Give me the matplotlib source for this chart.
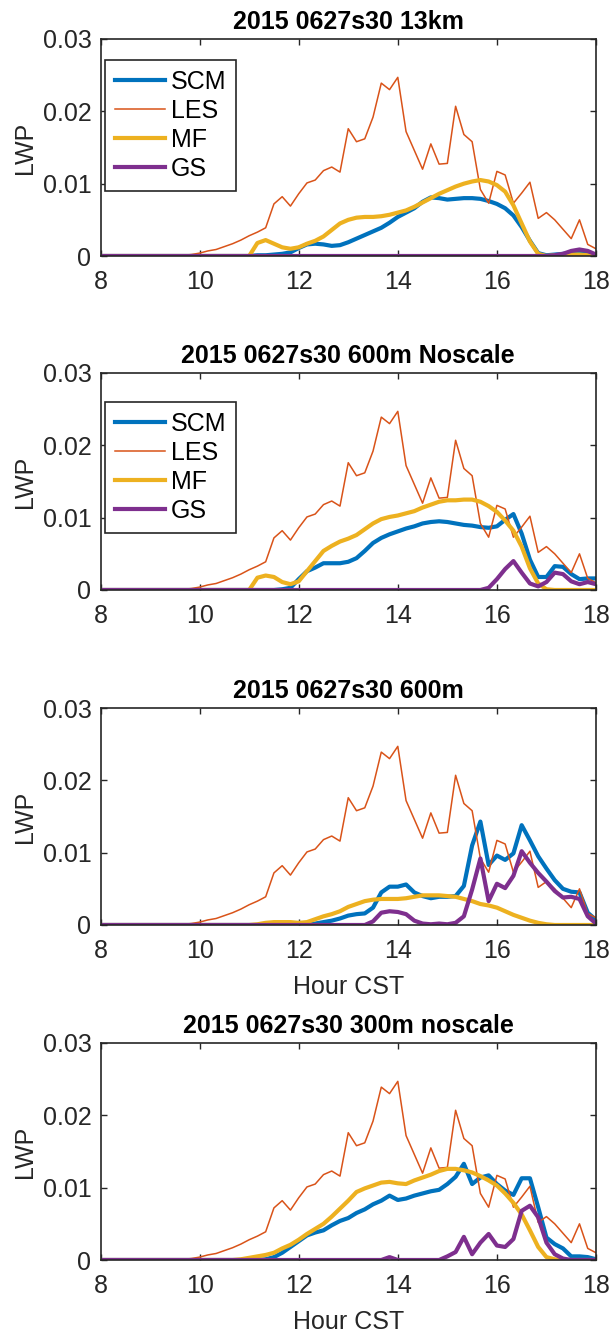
import numpy as np
import matplotlib
matplotlib.use("Agg")
import matplotlib.pyplot as plt

plt.rcParams['font.family'] = ['Liberation Sans', 'DejaVu Sans']

# Time axis: 10-minute output from 08:00 to 18:00 CST
hours = [8 + k / 6 for k in range(61)]

# LES liquid water path (same reference in every panel)
les = [0, 0, 0, 0, 0, 0, 0, 0, 0, 0,
       0.0001, 0.0002, 0.0004, 0.0007, 0.0009, 0.0013, 0.0017, 0.0022, 0.0028, 0.0033,
       0.0039, 0.0072, 0.0082, 0.0069, 0.0086, 0.0101, 0.0105, 0.0118, 0.0123, 0.0116,
       0.0176, 0.0158, 0.0162, 0.0192, 0.0239, 0.0230, 0.0247, 0.0172, 0.0146, 0.0120,
       0.0155, 0.0127, 0.0128, 0.0207, 0.0168, 0.0158, 0.0092, 0.0073, 0.0117, 0.0112,
       0.0073, 0.0087, 0.0102, 0.0052, 0.0060, 0.0050, 0.0037, 0.0024, 0.0050, 0.0016,
       0.0010]

# 13km run
scm_13km = [0] * 19 + [
    0.0001, 0.0001, 0.0002, 0.0003, 0.0005, 0.0011, 0.0016, 0.0017, 0.0016, 0.0014,
    0.0015, 0.0019, 0.0024, 0.0029, 0.0034, 0.0039, 0.0046, 0.0054, 0.0060, 0.0066,
    0.0075, 0.0081, 0.0080, 0.0078, 0.0079, 0.0080, 0.0080, 0.0079, 0.0076, 0.0072,
    0.0066, 0.0056, 0.0040, 0.0021, 0.0004, 0.0001, 0.0002, 0.0003, 0.0004, 0.0005,
    0.0004, 0.0001]
mf_13km = [0] * 19 + [
    0.0018, 0.0022, 0.0017, 0.0012, 0.0010, 0.0012, 0.0017, 0.0021, 0.0027, 0.0036,
    0.0045, 0.0050, 0.0053, 0.0054, 0.0054, 0.0055, 0.0057, 0.0060, 0.0063, 0.0068,
    0.0074, 0.0080, 0.0086, 0.0091, 0.0096, 0.0100, 0.0103, 0.0105, 0.0103, 0.0098,
    0.0089, 0.0070, 0.0045, 0.0020, 0.0003, 0.0000, 0.0001, 0.0002, 0.0002, 0.0002,
    0.0001, 0.0000]
gs_13km = [0] * 55 + [0.0001, 0.0003, 0.0007, 0.0009, 0.0007, 0.0002]

# 600m Noscale run
scm_600ns = [0] * 22 + [
    0.0001, 0.0003, 0.0015, 0.0026, 0.0031, 0.0037, 0.0037, 0.0037, 0.0039, 0.0044,
    0.0054, 0.0065, 0.0072, 0.0077, 0.0081, 0.0085, 0.0088, 0.0092, 0.0094, 0.0095,
    0.0094, 0.0092, 0.0090, 0.0089, 0.0087, 0.0086, 0.0088, 0.0097, 0.0105, 0.0078,
    0.0042, 0.0018, 0.0018, 0.0033, 0.0032, 0.0022, 0.0015, 0.0016, 0.0016]
mf_600ns = [0] * 19 + [
    0.0017, 0.0020, 0.0018, 0.0011, 0.0008, 0.0012, 0.0026, 0.0040, 0.0054, 0.0061,
    0.0067, 0.0071, 0.0076, 0.0084, 0.0092, 0.0098, 0.0101, 0.0103, 0.0106, 0.0109,
    0.0114, 0.0118, 0.0122, 0.0124, 0.0124, 0.0125, 0.0125, 0.0122, 0.0116, 0.0108,
    0.0096, 0.0082, 0.0060, 0.0030, 0.0009, 0.0001, 0, 0, 0, 0,
    0, 0]
gs_600ns = [0] * 47 + [
    0.0003, 0.0015, 0.0029, 0.0040, 0.0024, 0.0009, 0.0005, 0.0011, 0.0024, 0.0022,
    0.0012, 0.0008, 0.0011, 0.0008]

# 600m run
scm_600 = [0] * 26 + [
    0.0002, 0.0004, 0.0006, 0.0009, 0.0013, 0.0015, 0.0016, 0.0024, 0.0045, 0.0053,
    0.0053, 0.0056, 0.0045, 0.0040, 0.0037, 0.0039, 0.0039, 0.0040, 0.0054, 0.0110,
    0.0143, 0.0083, 0.0096, 0.0090, 0.0099, 0.0138, 0.0117, 0.0095, 0.0078, 0.0062,
    0.0050, 0.0046, 0.0045, 0.0017, 0.0007]
mf_600 = [0] * 19 + [
    0.0001, 0.0003, 0.0004, 0.0004, 0.0004, 0.0003, 0.0004, 0.0008, 0.0012, 0.0015,
    0.0019, 0.0025, 0.0029, 0.0033, 0.0035, 0.0036, 0.0036, 0.0036, 0.0037, 0.0039,
    0.0041, 0.0041, 0.0041, 0.0040, 0.0039, 0.0036, 0.0033, 0.0029, 0.0027, 0.0024,
    0.0019, 0.0014, 0.0010, 0.0006, 0.0003, 0.0001, 0, 0, 0, 0,
    0, 0]
gs_600 = [0] * 33 + [
    0.0005, 0.0017, 0.0019, 0.0018, 0.0015, 0.0006, 0.0002, 0.0001, 0.0002, 0.0001,
    0.0003, 0.0012, 0.0049, 0.0092, 0.0033, 0.0057, 0.0051, 0.0068, 0.0102, 0.0086,
    0.0072, 0.0060, 0.0047, 0.0038, 0.0039, 0.0036, 0.0012, 0.0002]

# 300m noscale run
scm_300ns = [0] * 20 + [
    0.0001, 0.0004, 0.0010, 0.0018, 0.0026, 0.0034, 0.0038, 0.0041, 0.0048, 0.0054,
    0.0058, 0.0065, 0.0070, 0.0077, 0.0082, 0.0089, 0.0083, 0.0085, 0.0089, 0.0092,
    0.0095, 0.0097, 0.0105, 0.0115, 0.0133, 0.0105, 0.0114, 0.0117, 0.0105, 0.0096,
    0.0090, 0.0113, 0.0113, 0.0073, 0.0031, 0.0022, 0.0016, 0.0005, 0.0005, 0.0004,
    0.0001]
mf_300ns = [0] * 17 + [
    0.0001, 0.0003, 0.0005, 0.0007, 0.0010, 0.0016, 0.0021, 0.0028, 0.0036, 0.0043,
    0.0050, 0.0060, 0.0071, 0.0082, 0.0094, 0.0099, 0.0103, 0.0107, 0.0108, 0.0106,
    0.0105, 0.0110, 0.0114, 0.0118, 0.0123, 0.0126, 0.0126, 0.0124, 0.0121, 0.0116,
    0.0110, 0.0103, 0.0092, 0.0079, 0.0063, 0.0041, 0.0018, 0.0004, 0.0001, 0,
    0, 0, 0, 0]
gs_300ns = [0] * 35 + [0.0004] + [0] * 6 + [
    0.0005, 0.0011, 0.0032, 0.0008, 0.0024, 0.0036, 0.0020, 0.0018, 0.0029, 0.0068,
    0.0075, 0.0059, 0.0024, 0.0008, 0.0002, 0, 0, 0, 0]

titles = ['2015 0627s30 13km', '2015 0627s30 600m Noscale',
          '2015 0627s30 600m', '2015 0627s30 300m noscale']
runs = [(scm_13km, mf_13km, gs_13km), (scm_600ns, mf_600ns, gs_600ns),
        (scm_600, mf_600, gs_600), (scm_300ns, mf_300ns, gs_300ns)]
x_ticks = [8, 10, 12, 14, 16, 18]
y_ticks = [0, 0.01, 0.02, 0.03]
y_tick_labels = ['0', '0.01', '0.02', '0.03']

colors = {'SCM': '#0072BD', 'LES': '#D95319', 'MF': '#EDB120', 'GS': '#7E2F8E'}

W, H = 610, 1332
fig = plt.figure(figsize=(W / 100, H / 100), dpi=100)
fig.patch.set_facecolor('white')

ax_left, ax_width, ax_height = 100.5, 495.5, 217
ax_tops = [39, 373, 708, 1043]
legend_offsets = [21, 29]
fs = 18
axis_col = '#262626'

for i, (title, (scm, mf, gs)) in enumerate(zip(titles, runs)):
    top = ax_tops[i]
    ax = fig.add_axes([ax_left / W, (H - top - ax_height) / H, ax_width / W, ax_height / H])
    ax.plot(hours, scm, color=colors['SCM'], lw=3.0, label='SCM', solid_joinstyle='round')
    ax.plot(hours, les, color=colors['LES'], lw=1.1, label='LES')
    ax.plot(hours, mf, color=colors['MF'], lw=3.0, label='MF', solid_joinstyle='round')
    ax.plot(hours, gs, color=colors['GS'], lw=3.0, label='GS', solid_joinstyle='round')

    ax.set_xlim(8, 18)
    ax.set_ylim(0, 0.03)
    ax.set_xticks(x_ticks)
    ax.set_xticklabels([str(t) for t in x_ticks])
    ax.set_yticks(y_ticks)
    ax.set_yticklabels(y_tick_labels)
    ax.tick_params(direction='in', length=4.5, width=1.0, top=True, right=True,
                   labelsize=fs, colors=axis_col)
    ax.tick_params(axis='x', pad=10)
    ax.tick_params(axis='y', pad=6.5)
    for sp in ax.spines.values():
        sp.set_linewidth(1.2)
        sp.set_color(axis_col)
    ax.set_ylabel('LWP', fontsize=fs, color=axis_col, labelpad=4)
    ax.set_title(title, fontsize=fs, fontweight='bold', color='black', pad=7.5)
    if i >= 2:
        ax.set_xlabel('Hour CST', fontsize=fs, color=axis_col, labelpad=8.5)

    if i < 2:
        off = legend_offsets[i]
        leg = ax.legend(loc='upper left',
                        bbox_to_anchor=(4 / ax_width, 1 - off / ax_height),
                        fontsize=fs, frameon=True, fancybox=False, framealpha=1,
                        edgecolor='#262626', handlelength=2.0, handletextpad=0.25,
                        labelspacing=0.2, borderpad=0.4, borderaxespad=0)
        leg.get_frame().set_linewidth(1.2)
        for t in leg.get_texts():
            t.set_color('black')

fig.savefig('out.png', dpi=100, facecolor='white')
